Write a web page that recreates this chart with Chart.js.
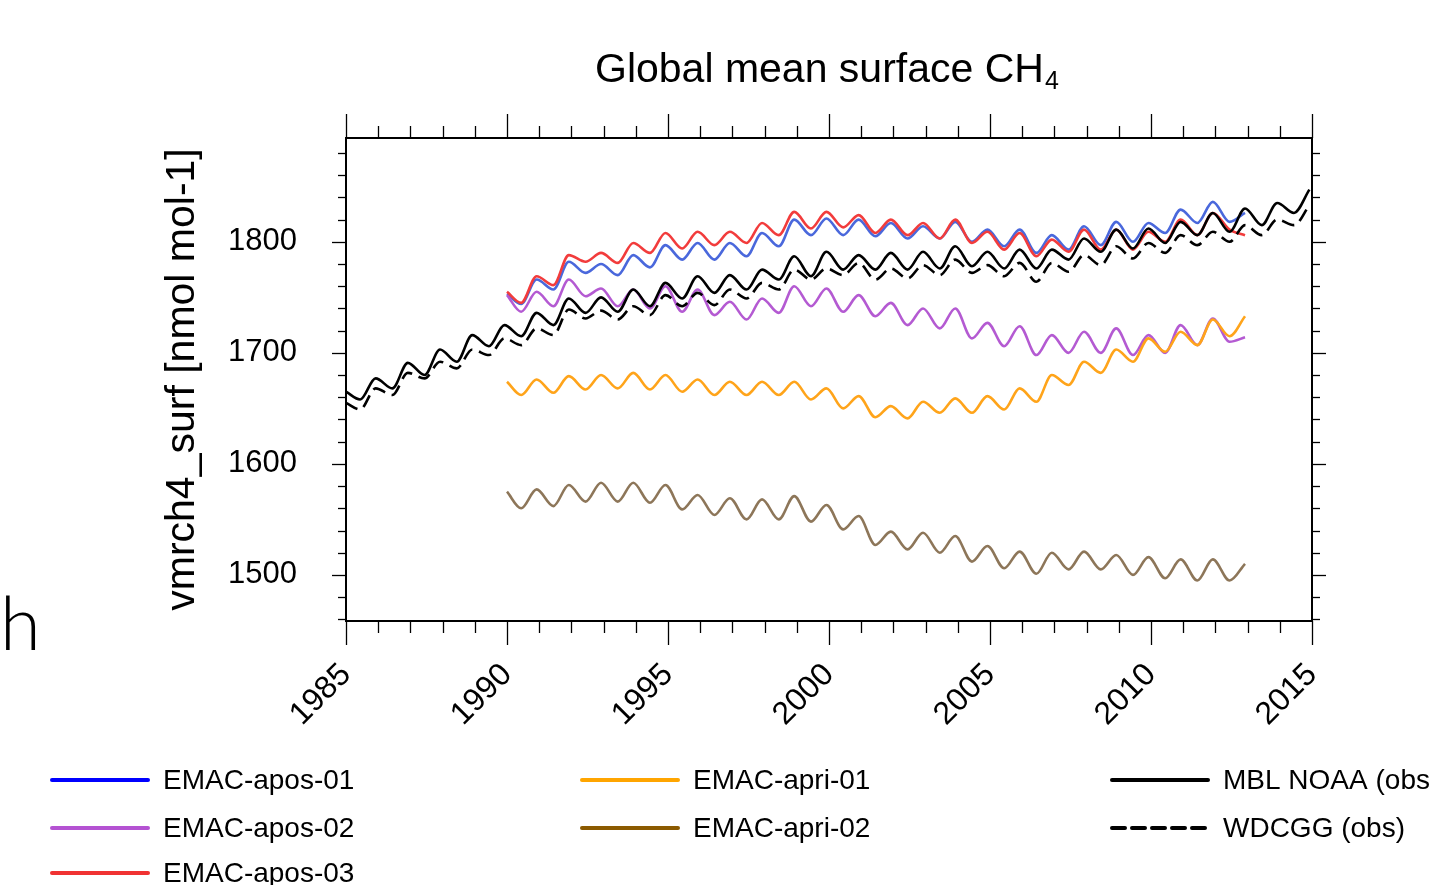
<!DOCTYPE html>
<html>
<head>
<meta charset="utf-8">
<title>Global mean surface CH4</title>
<script src="https://cdn.jsdelivr.net/npm/chart.js@4.4.0/dist/chart.umd.min.js"></script>
<style>
  html, body { margin: 0; padding: 0; background: #fff; overflow: hidden; }
  #wrap { position: relative; width: 1429px; height: 885px; }
</style>
</head>
<body>
<div id="wrap"><canvas id="ch4Chart"></canvas></div>
<script>
// Each series: first value at the start year, then per year a mid-year trough and a late-year peak
const modelStartYear = 1990, modelYears = 23;
const obsStartYear = 1985, obsYears = 30;
const troughAt = 0.44, peakAt = 0.92;

const apos01 = [1753,
  1744,1766, 1757,1782, 1772,1780, 1770,1788, 1777,1797, 1784,1799, 1784,1799, 1787,1808,
  1796,1820, 1806,1821, 1806,1820, 1805,1817, 1803,1814, 1803,1818, 1800,1811, 1796,1811,
  1790,1806, 1793,1814, 1797,1818, 1800,1817, 1808,1829, 1817,1836, 1818,1826];
const apos02 = [1752,
  1737,1755, 1742,1766, 1751,1758, 1742,1757, 1740,1760, 1737,1757, 1734,1746, 1730,1749,
  1736,1760, 1742,1758, 1737,1752, 1733,1745, 1725,1740, 1722,1740, 1713,1727, 1706,1724,
  1698,1716, 1700,1719, 1700,1722, 1698,1716, 1700,1725, 1707,1731, 1710,1714];
const apos03 = [1755,
  1745,1769, 1761,1788, 1782,1790, 1781,1799, 1790,1808, 1794,1809, 1797,1809, 1799,1817,
  1806,1827, 1812,1827, 1813,1824, 1808,1820, 1806,1817, 1803,1820, 1799,1809, 1793,1808,
  1787,1802, 1791,1811, 1793,1811, 1793,1809, 1800,1820, 1806,1826, 1811,1806];
const apri01 = [1674,
  1662,1676, 1664,1679, 1667,1680, 1668,1682, 1667,1680, 1665,1676, 1662,1674, 1662,1674,
  1662,1674, 1658,1668, 1650,1661, 1642,1652, 1641,1656, 1646,1659, 1646,1661, 1649,1668,
  1656,1680, 1671,1692, 1682,1703, 1692,1713, 1701,1719, 1707,1730, 1715,1733];
const apri02 = [1575,
  1560,1577, 1562,1581, 1566,1583, 1566,1583, 1565,1581, 1559,1572, 1554,1569, 1550,1568,
  1550,1571, 1548,1563, 1541,1553, 1527,1539, 1523,1538, 1520,1535, 1512,1526, 1506,1521,
  1501,1520, 1505,1521, 1505,1518, 1500,1516, 1497,1514, 1495,1514, 1495,1510];
const mblNoaa = [1665,
  1658,1677, 1668,1691, 1680,1703, 1692,1716, 1706,1725, 1715,1736, 1725,1749, 1736,1750,
  1737,1757, 1742,1763, 1749,1769, 1754,1770, 1757,1775, 1766,1787, 1769,1791, 1775,1788,
  1775,1790, 1775,1791, 1776,1796, 1778,1791, 1776,1793, 1776,1793, 1784,1803, 1791,1811,
  1794,1812, 1799,1818, 1806,1826, 1809,1830, 1815,1835, 1826,1847];
const wdcgg = [1655,
  1649,1668, 1662,1682, 1677,1692, 1686,1703, 1698,1713, 1707,1722, 1716,1739, 1731,1738,
  1730,1742, 1734,1752, 1742,1754, 1743,1757, 1749,1763, 1757,1775, 1766,1776, 1770,1781,
  1766,1776, 1767,1779, 1770,1784, 1772,1779, 1769,1781, 1764,1781, 1773,1788, 1779,1796,
  1785,1799, 1790,1806, 1797,1809, 1800,1815, 1806,1820, 1815,1833];

const xMajorTicks = [1985, 1990, 1995, 2000, 2005, 2010, 2015];
const yMajorTicks = [1500, 1600, 1700, 1800];

// sample times: start, then trough / peak of every year
function sampleTimes(start, years) {
  const t = [start];
  for (let i = 0; i < years; i++) {
    t.push(start + i + troughAt, start + i + peakAt);
  }
  return t;
}
const modelTimes = sampleTimes(modelStartYear, modelYears);
const obsTimes = sampleTimes(obsStartYear, obsYears);

function pts(times, vals) {
  return vals.map((v, i) => ({ x: times[i], y: v }));
}

const legendItems = [
  { label: 'EMAC-apos-01', color: '#0000ff', col: 0, row: 0 },
  { label: 'EMAC-apos-02', color: '#b452d2', col: 0, row: 1 },
  { label: 'EMAC-apos-03', color: '#f03232', col: 0, row: 2 },
  { label: 'EMAC-apri-01', color: '#ffa500', col: 1, row: 0 },
  { label: 'EMAC-apri-02', color: '#8b5a00', col: 1, row: 1 },
  { label: 'MBL NOAA (obs)', color: '#000000', col: 2, row: 0 },
  { label: 'WDCGG (obs)', color: '#000000', col: 2, row: 1, dash: [13, 7] }
];
const legendCols = [52, 582, 1112];
const legendRows = [780, 828, 873];

const decor = {
  id: 'decor',
  afterDraw(chart) {
    const { ctx, chartArea: a, scales: { x, y } } = chart;
    ctx.save();
    ctx.strokeStyle = '#000';

    // frame
    ctx.lineWidth = 2;
    ctx.strokeRect(a.left, a.top, a.right - a.left, a.bottom - a.top);

    // outward ticks on all four sides
    ctx.lineWidth = 1.3;
    const seg = (x1, y1, x2, y2) => { ctx.beginPath(); ctx.moveTo(x1, y1); ctx.lineTo(x2, y2); ctx.stroke(); };
    for (let yr = 1985; yr <= 2015; yr++) {
      const px = Math.round(x.getPixelForValue(yr)) + 0.5;
      const len = xMajorTicks.includes(yr) ? 24 : 12;
      seg(px, a.bottom, px, a.bottom + len);
      seg(px, a.top, px, a.top - len);
    }
    for (let v = 1460; v <= 1880; v += 20) {
      const py = Math.round(y.getPixelForValue(v)) + 0.5;
      const len = yMajorTicks.includes(v) ? 14 : 8;
      seg(a.left, py, a.left - len, py);
      seg(a.right, py, a.right + len, py);
    }

    // title with subscript
    ctx.fillStyle = '#000';
    ctx.textBaseline = 'alphabetic';
    ctx.textAlign = 'left';
    ctx.font = '41px "Liberation Sans", Arial, sans-serif';
    const t = 'Global mean surface CH';
    ctx.fillText(t, 595, 82);
    const tw = ctx.measureText(t).width;
    ctx.font = '25px "Liberation Sans", Arial, sans-serif';
    ctx.fillText('4', 595 + tw + 1, 89);

    // panel letter
    ctx.font = '300 74px Lato, "Liberation Sans", sans-serif';
    ctx.fillText('h', 0, 650);

    // legend
    ctx.font = '28px "Liberation Sans", Arial, sans-serif';
    ctx.textBaseline = 'middle';
    for (const it of legendItems) {
      const lx = legendCols[it.col], ly = legendRows[it.row];
      ctx.strokeStyle = it.color;
      ctx.lineWidth = 4;
      ctx.lineCap = 'round';
      ctx.setLineDash(it.dash || []);
      seg(lx, ly, lx + 96, ly);
      ctx.setLineDash([]);
      ctx.fillStyle = '#000';
      ctx.fillText(it.label, lx + 111, ly + 1);
    }
    ctx.restore();
  }
};

const lineStyle = { borderWidth: 2.6, pointRadius: 0, fill: false, cubicInterpolationMode: 'monotone' };

new Chart(document.getElementById('ch4Chart'), {
  type: 'line',
  data: {
    datasets: [
      { label: 'MBL NOAA (obs)', data: pts(obsTimes, mblNoaa), borderColor: '#000000', ...lineStyle },
      { label: 'WDCGG (obs)', data: pts(obsTimes, wdcgg), borderColor: '#000000', borderDash: [13, 7], ...lineStyle },
      { label: 'EMAC-apri-02', data: pts(modelTimes, apri02), borderColor: '#8d7659', ...lineStyle },
      { label: 'EMAC-apri-01', data: pts(modelTimes, apri01), borderColor: '#ffa41a', ...lineStyle },
      { label: 'EMAC-apos-03', data: pts(modelTimes, apos03), borderColor: '#f23c3c', ...lineStyle },
      { label: 'EMAC-apos-02', data: pts(modelTimes, apos02), borderColor: '#b45ad2', ...lineStyle },
      { label: 'EMAC-apos-01', data: pts(modelTimes, apos01), borderColor: '#4a68dc', ...lineStyle }
    ]
  },
  options: {
    responsive: true,
    maintainAspectRatio: false,
    animation: false,
    layout: { padding: { left: 0, top: 138, right: 117, bottom: 0 } },
    plugins: { legend: { display: false }, tooltip: { enabled: false } },
    scales: {
      x: {
        type: 'linear',
        min: 1985, max: 2015,
        afterFit(s) { s.height = 264; },
        grid: { display: false, drawTicks: false },
        border: { display: false },
        ticks: {
          stepSize: 5,
          minRotation: 45, maxRotation: 45,
          padding: 35,
          color: '#000',
          font: { family: '"Liberation Sans", Arial, sans-serif', size: 32 },
          callback: v => (xMajorTicks.includes(v) ? String(v) : '')
        }
      },
      y: {
        type: 'linear',
        min: 1458.5, max: 1893.5,
        afterFit(s) { s.width = 346; },
        grid: { display: false, drawTicks: false },
        border: { display: false },
        ticks: {
          stepSize: 100,
          padding: 49,
          color: '#000',
          font: { family: '"Liberation Sans", Arial, sans-serif', size: 31 },
          callback: v => (yMajorTicks.includes(v) ? String(v) : '')
        },
        title: {
          display: true,
          text: 'vmrch4_surf [nmol mol-1]',
          color: '#000',
          padding: { top: 158, bottom: 0 },
          font: { family: '"Liberation Sans", Arial, sans-serif', size: 41 }
        }
      }
    }
  },
  plugins: [decor]
});
</script>
</body>
</html>
